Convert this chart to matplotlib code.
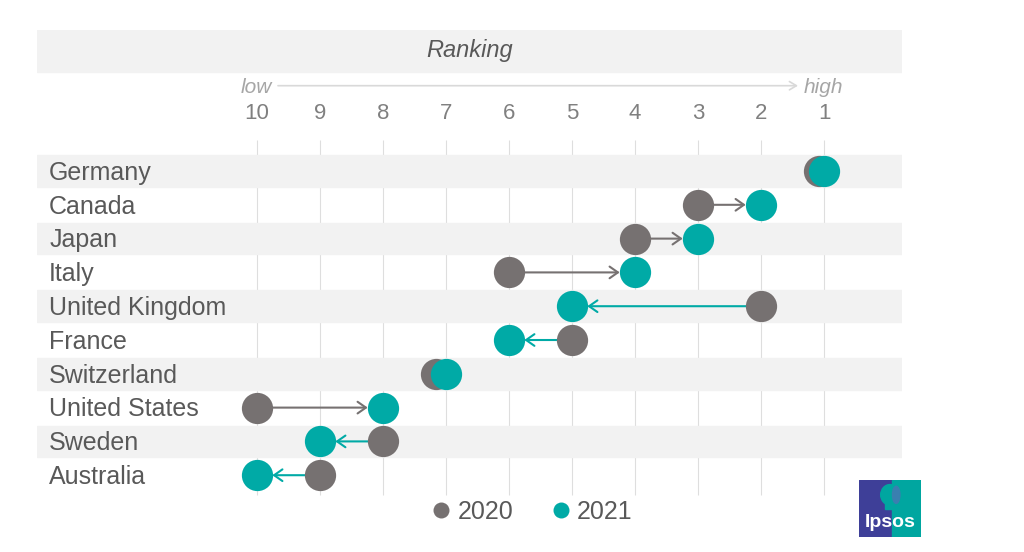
import matplotlib.pyplot as plt
import matplotlib.transforms as mtransforms
from matplotlib.lines import Line2D
from matplotlib.patches import Rectangle, Ellipse

plt.rcParams['font.family'] = ['Liberation Sans', 'DejaVu Sans']

# data
countries = ['Germany', 'Canada', 'Japan', 'Italy', 'United Kingdom', 'France',
             'Switzerland', 'United States', 'Sweden', 'Australia']
rank_2020 = [1, 3, 4, 6, 2, 5, 7, 10, 8, 9]
rank_2021 = [1, 2, 3, 4, 5, 6, 7, 8, 9, 10]
ranks = list(range(1, 11))

gray = '#767171'
teal = '#00aaa6'
text_col = '#595959'

fig = plt.figure(figsize=(10.24, 5.52), dpi=100)
ax = fig.add_axes([37 / 1024, 12 / 552, 865 / 1024, 510 / 552])
ax.set_xlim(13.492, -0.238)
ax.set_ylim(10.917, -4.172)
ax.axis('off')

# header band
ax.axhspan(-4.172, -2.93, color='#f2f2f2', zorder=0)
ax.text(0.5, -3.56, 'Ranking', transform=ax.get_yaxis_transform(), ha='center',
        va='center', fontsize=17, style='italic', color=text_col)

# low -> high
ax.text(9.762, -2.48, 'low', ha='right', va='center', fontsize=15,
        style='italic', color='#a6a6a6')
ax.text(1.317, -2.48, 'high', ha='left', va='center', fontsize=15,
        style='italic', color='#a6a6a6')
ax.annotate('', xy=(1.413, -2.524), xytext=(9.667, -2.524),
            arrowprops=dict(arrowstyle='->,head_length=0.5,head_width=0.3',
                            color='#d9d9d9', lw=1.2, shrinkA=0, shrinkB=0,
                            mutation_scale=10))

for r in ranks:
    ax.text(r, -1.69, str(r), ha='center', va='center', fontsize=16, color='#808080')

# grid + row bands
ax.vlines(ranks, -0.917, 9.586, color='#dedede', lw=0.8, zorder=0.5)
for i in range(0, len(countries), 2):
    ax.axhspan(i - 0.47, i + 0.47, color='#f2f2f2', zorder=1)

for i, name in enumerate(countries):
    ax.text(13.30, i + 0.26, name, ha='left', va='baseline', fontsize=18, color=text_col)

# small nudge so tied dots stay visible
tie_shift = {'Germany': -3.5, 'Switzerland': -7}

for i, name in enumerate(countries):
    r0, r1 = rank_2020[i], rank_2021[i]
    tr = ax.transData
    if name in tie_shift:
        tr = mtransforms.offset_copy(ax.transData, fig=fig, x=tie_shift[name], y=0, units='points')
    ax.plot([r0], [i], 'o', ms=22.5, color=gray, mew=0, zorder=3, transform=tr)
    ax.plot([r1], [i], 'o', ms=22.5, color=teal, mew=0, zorder=4)
    if r0 != r1:
        col = gray if r1 < r0 else teal
        ax.annotate('', xy=(r1, i), xytext=(r0, i),
                    arrowprops=dict(arrowstyle='->,head_length=0.6,head_width=0.42',
                                    color=col, lw=1.5, shrinkA=11, shrinkB=11,
                                    mutation_scale=10), zorder=2)

handles = [Line2D([], [], marker='o', ls='', ms=11.5, color=gray, mew=0),
           Line2D([], [], marker='o', ls='', ms=11.5, color=teal, mew=0)]
leg = fig.legend(handles, ['2020', '2021'], loc='center', ncol=2,
                 bbox_to_anchor=(532 / 1024, 1 - 512 / 552), frameon=False,
                 fontsize=18, handlelength=0.8, handletextpad=0.25, columnspacing=1.5)
for t in leg.get_texts():
    t.set_color(text_col)

# Ipsos logo
lax = fig.add_axes([859 / 1024, 15 / 552, 62 / 1024, 57 / 552])
lax.set_xlim(0, 1)
lax.set_ylim(0, 1)
lax.axis('off')
lax.add_patch(Rectangle((0, 0), 0.54, 1, color='#3e3f98'))
lax.add_patch(Rectangle((0.54, 0), 0.46, 1, color='#00a6a0'))
lax.add_patch(Ellipse((0.5, 0.74), 0.3, 0.36, color='#00a6a0'))
lax.add_patch(Rectangle((0.42, 0.5), 0.16, 0.1, color='#00a6a0'))
lax.add_patch(Ellipse((0.6, 0.74), 0.12, 0.3, color='#3a7fb0'))
lax.text(0.5, 0.26, 'Ipsos', ha='center', va='center', fontsize=14,
         fontweight='bold', color='white')

fig.savefig('out.png', dpi=100)
